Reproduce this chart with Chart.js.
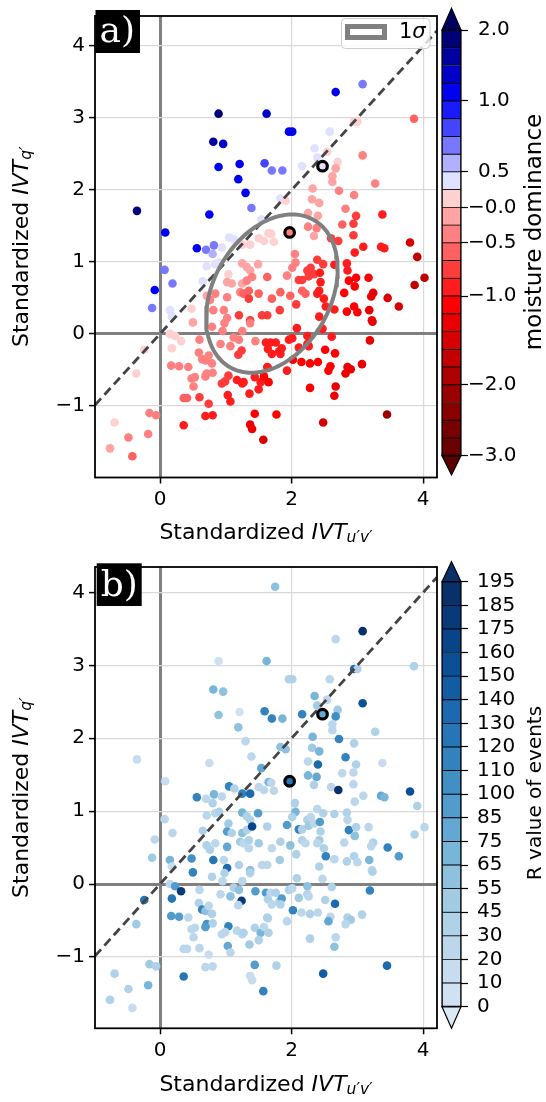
<!DOCTYPE html>
<html>
<head>
<meta charset="utf-8">
<script src="https://cdn.jsdelivr.net/npm/chart.js@4.4.0/dist/chart.umd.min.js"></script>
<style>
  body { margin: 0; background: #fff; }
  #wrap { position: relative; width: 546px; height: 1102px; }
  canvas { position: absolute; }
</style>
</head>
<body>
<div id="wrap">
  <canvas id="scA" width="546" height="551" style="left:0px;top:0px"></canvas>
  <canvas id="cbA" width="111" height="551" style="left:435px;top:0px"></canvas>
  <canvas id="scB" width="546" height="551" style="left:0px;top:551px"></canvas>
  <canvas id="cbB" width="111" height="551" style="left:435px;top:551px"></canvas>
</div>
<script>
/* ---------- data ---------- */
// standardized IVT_u'v' (x) and IVT_q' (y) of the events
const ptX = [
  0.89,1.62,0.81,0.96,0.89,1.21,1.59,3.08,2.67,1.96,
  2.01,2.58,2.35,2.39,2.95,3.00,3.86,3.08,2.16,2.70,
  2.67,2.54,1.70,1.86,1.19,1.30,1.39,1.54,-0.35,0.75,
  0.08,0.56,0.70,0.82,0.80,0.94,1.05,1.13,0.71,0.84,
  0.90,0.07,0.19,-0.08,-0.12,0.65,0.15,0.18,0.48,1.25,
  1.37,1.50,1.58,1.65,1.25,1.32,1.37,1.49,1.04,1.02,
  1.09,1.25,1.32,1.40,0.71,0.84,1.02,0.76,1.22,1.27,
  1.35,1.50,1.63,1.35,0.97,0.81,1.20,1.37,1.55,1.02,
  2.62,2.62,3.27,2.32,2.31,2.42,2.72,2.95,1.83,1.91,
  2.82,3.38,2.25,2.40,2.98,2.94,2.77,2.25,2.38,2.34,
  1.69,1.73,2.94,2.60,2.71,3.09,3.36,3.41,3.80,3.91,
  2.96,2.05,2.06,2.39,2.48,2.65,2.84,2.85,1.93,2.01,
  2.24,2.29,2.11,2.16,2.26,2.34,2.43,2.44,2.42,2.39,
  2.87,2.98,3.17,2.96,2.80,3.24,3.21,3.46,3.87,4.02,
  3.63,1.83,1.70,1.98,2.16,2.21,2.07,1.82,1.63,2.49,
  2.52,2.65,2.84,2.95,3.00,3.18,3.22,2.42,0.50,0.15,
  0.23,0.32,0.18,-0.24,-0.36,0.60,0.79,0.95,0.98,0.92,
  1.07,1.12,1.20,1.25,1.37,1.45,1.24,1.19,0.59,0.64,
  0.69,0.74,0.79,0.17,0.29,0.43,0.53,0.51,0.48,0.71,
  0.80,0.69,0.36,0.41,0.60,0.74,0.94,1.04,0.99,1.03,
  1.07,1.17,1.25,1.27,1.36,1.44,1.53,1.50,1.58,1.65,
  0.69,0.80,0.36,-0.16,-0.06,-0.69,-0.48,-0.18,-0.76,-0.42,
  1.44,1.37,1.40,1.57,1.61,1.64,1.63,3.23,2.08,2.47,
  2.61,2.24,1.96,2.01,3.19,2.24,2.26,2.11,2.51,2.66,
  1.68,1.76,1.81,1.85,1.70,1.83,2.02,2.15,2.28,2.40,
  1.64,1.93,2.59,2.56,2.85,2.90,2.82,3.07,2.28,2.67,
  2.65,1.77,2.48,3.45
];
const ptY = [
  3.06,3.06,2.67,2.64,2.32,2.36,2.37,3.47,3.36,2.81,
  2.81,2.81,2.58,2.45,2.95,2.95,2.99,2.48,2.33,2.39,
  2.30,2.53,2.27,2.27,2.15,1.96,1.75,1.59,1.71,1.66,
  1.41,1.19,1.17,1.23,1.11,1.20,1.34,1.31,0.94,0.97,
  0.99,0.89,0.70,0.61,0.36,0.73,0.33,0.24,0.35,1.24,
  1.24,1.33,1.29,1.40,0.98,0.93,0.88,0.97,0.83,0.72,
  0.70,0.70,0.74,0.79,0.53,0.56,0.51,0.47,0.58,0.56,
  0.60,0.56,0.79,0.49,0.33,0.33,0.26,0.19,0.26,0.22,
  2.19,2.11,2.09,2.02,1.87,1.82,1.99,1.93,1.88,1.85,
  1.74,1.66,1.68,1.64,1.64,1.53,1.52,1.49,1.47,1.36,
  1.39,1.28,1.37,1.33,1.29,1.21,1.21,1.19,1.27,1.07,
  1.13,1.11,0.99,1.03,0.97,0.96,0.98,0.88,0.81,0.92,
  0.88,0.92,0.75,0.75,0.80,0.83,0.85,0.72,0.60,0.56,
  0.74,0.78,0.78,0.66,0.57,0.57,0.52,0.50,0.68,0.78,
  0.38,0.58,0.49,0.53,0.60,0.56,0.41,0.33,0.26,0.49,
  0.38,0.34,0.31,0.38,0.30,0.33,0.19,0.24,0.16,0.00,
  -0.03,-0.10,-0.20,-0.22,-0.55,-0.08,0.10,0.04,0.15,-0.14,
  -0.17,-0.05,-0.08,0.04,0.15,-0.10,-0.23,-0.29,-0.26,-0.35,
  -0.37,-0.30,-0.41,-0.44,-0.45,-0.46,-0.60,-0.73,-0.62,-0.55,
  -0.54,-0.59,-0.89,-0.89,-0.88,-0.97,-0.69,-0.58,-0.66,-0.85,
  -0.94,-0.64,-0.69,-0.67,-0.83,-0.60,-0.67,-0.77,-0.59,-0.67,
  -1.14,-1.13,-1.27,-1.10,-1.13,-1.23,-1.44,-1.39,-1.59,-1.70,
  -1.11,-1.26,-1.32,-1.47,-0.12,-0.21,-0.46,0.17,0.08,0.07,
  -0.04,-0.03,-0.08,-0.06,-0.09,-0.14,-0.17,-0.19,-0.22,-0.27,
  -0.12,-0.12,-0.24,-0.20,-0.28,-0.28,-0.36,-0.39,-0.41,-0.39,
  -0.47,-0.51,-0.45,-0.51,-0.46,-0.49,-0.55,-0.42,-0.75,-0.73,
  -0.86,-1.12,-1.23,-1.12
];
// moisture dominance of each event (panel a colour)
const moistDom = [
  1.8,1.3,1.6,1.3,1.2,1.1,0.8,0.7,1.2,1.2,
  1.2,0.4,0.45,0.45,0.1,0.1,-0.55,-0.45,0.4,0.1,
  -0.1,0.1,0.7,0.7,1.2,1.1,0.7,0.4,1.9,1.2,
  1.2,1.0,0.7,0.7,0.55,0.4,0.4,0.4,0.45,0.45,
  0.4,0.7,0.7,1.0,0.7,0.45,0.4,0.4,0.1,0.1,
  0.1,0.1,0.1,0.1,-0.1,-0.2,-0.1,-0.2,0.1,-0.1,
  -0.2,-0.2,-0.3,-0.3,-0.2,-0.3,-0.3,-0.5,-0.5,-0.6,
  -0.6,-0.6,-0.6,-0.8,-0.4,-0.4,-0.8,-0.8,-0.8,-0.5,
  -0.1,-0.1,-0.5,-0.2,-0.2,-0.2,-0.3,-0.5,0.4,0.1,
  -0.4,-0.9,-0.2,-0.2,-0.7,-0.7,-0.6,-0.3,-0.3,-0.2,
  0.1,0.1,-0.8,-0.7,-0.7,-0.9,-1.0,-1.0,-1.5,-1.7,
  -1.0,-0.4,-0.4,-0.8,-0.8,-0.9,-1.0,-1.0,-0.5,-0.5,
  -0.7,-0.7,-0.7,-0.7,-0.7,-0.7,-0.9,-0.9,-0.9,-0.9,
  -1.1,-1.1,-1.1,-1.1,-1.2,-1.3,-1.3,-1.5,-1.8,-1.8,
  -1.6,-0.6,-0.6,-0.6,-0.6,-0.6,-0.7,-0.7,-0.7,-1.0,
  -1.0,-1.0,-1.1,-1.1,-1.1,-1.3,-1.3,-1.0,-0.1,0.1,
  0.1,0.1,0.1,0.1,0.1,-0.3,-0.3,-0.3,-0.3,-0.5,
  -0.5,-0.5,-0.5,-0.5,-0.5,-0.5,-0.8,-0.8,-0.5,-0.5,
  -0.5,-0.5,-0.5,-0.3,-0.3,-0.3,-0.5,-0.5,-0.5,-0.5,
  -0.5,-0.5,-0.6,-0.6,-0.7,-0.8,-0.8,-0.8,-0.8,-1.0,
  -1.0,-0.9,-0.9,-0.9,-1.0,-1.0,-1.0,-1.0,-1.1,-1.1,
  -0.9,-0.9,-0.9,-0.4,-0.4,0.1,-0.4,-0.5,-0.2,-0.6,
  -1.1,-1.3,-1.3,-1.6,-1.0,-1.0,-1.0,-1.3,-1.0,-1.0,
  -1.0,-1.0,-1.0,-1.0,-1.3,-1.0,-1.0,-1.0,-1.1,-1.1,
  -1.0,-1.0,-1.0,-1.0,-1.0,-1.0,-1.1,-1.1,-1.1,-1.1,
  -1.0,-1.0,-1.2,-1.2,-1.3,-1.3,-1.3,-1.4,-1.2,-1.3,
  -1.3,-1.2,-1.6,-2.2
];
// R value of each event (panel b colour)
const rValue = [
  8,65,65,60,55,8,110,190,20,30,
  35,25,70,45,130,40,30,150,110,50,
  100,20,110,65,60,25,20,80,10,15,
  10,110,20,70,40,20,110,30,25,20,
  30,20,25,20,45,30,70,15,100,110,
  130,20,25,70,70,40,30,90,45,95,
  30,60,30,170,40,25,80,30,45,20,
  30,50,40,20,25,120,30,60,20,130,
  20,20,30,65,50,65,110,30,60,60,
  110,15,20,130,30,20,20,70,75,30,
  20,20,20,25,185,20,75,70,150,40,
  25,30,65,20,40,30,40,20,90,30,
  40,25,110,30,45,20,85,30,45,20,
  110,30,20,60,25,30,20,110,40,20,
  85,30,20,60,30,20,30,45,20,30,
  110,20,30,40,20,65,25,30,110,20,
  90,175,120,120,45,25,40,20,30,25,
  60,30,55,25,30,90,175,20,30,110,
  60,25,30,90,90,20,20,25,20,100,
  30,85,20,20,25,15,20,110,20,80,
  20,25,20,30,50,40,70,40,25,30,
  20,20,120,45,30,40,30,70,30,10,
  85,10,10,110,90,30,40,30,40,20,
  30,60,30,25,110,30,20,45,30,130,
  20,30,20,85,25,30,110,20,40,25,
  30,20,20,75,30,45,20,30,30,20,
  60,30,140,130
];
// the two highlighted events (black rings)
const ringX = [2.47, 1.97];
const ringY = [2.33, 1.41];
const ringMoist = [0.3, -0.3];
const ringR = [75, 120];
// event only shown in panel b
const extraBX = [1.75];
const extraBY = [4.08];
const extraBR = [55];

// 1-sigma ellipse (centre and covariance)
const ellCenter = [1.70, 0.56];
const ellCov = [[1.0, 0.341], [0.341, 1.21]];

// axes
const xLim = [-0.988, 4.21];
const yLimA = [-1.995, 4.417];
const yLimB = [-1.98, 4.35];
const xTicks = [0, 2, 4];
const yTicks = [-1, 0, 1, 2, 3, 4];

// colorbar a: levels (bottom to top), colours per bin, ticks
const moistLevels = [-3.0,-2.75,-2.5,-2.25,-2.0,-1.8,-1.6,-1.4,-1.2,-1.0,-0.8333,-0.6667,
  -0.5,-0.25,0,0.25,0.5,0.625,0.75,0.875,1.0,1.25,1.5,1.75,2.0];
const moistColors = ['#6a0000','#780000','#880000','#9a0000','#ae0000','#c20000','#d60000','#ea0000',
  '#ff0000','#ff1c1c','#ff3c3c','#ff6060','#ff8080','#ffa4a4','#ffd0d0','#e0e0ff',
  '#b0b0ff','#7878ff','#4444ff','#1a1aff','#0000f0','#0000c8','#0000a0','#00007a'];
const moistUnder = '#5a0000', moistOver = '#000060';
const moistTicks = [-3.0, -2.0, -1.0, -0.5, 0, 0.5, 1.0, 2.0];
const moistTickText = ['\u22123.0','\u22122.0','\u22121.0','\u22120.5','\u22120.0','\u20020.5','\u20021.0','\u20022.0'];

// colorbar b
const rLevels = [0,10,20,30,45,55,65,75,85,100,110,120,130,140,150,160,175,185,195];
const rColors = ['#d0e1f2','#c8dcf0','#bcd7eb','#b0d2e8','#a0cbe2','#8dc1dd','#77b5d9','#63a8d3','#519ccc',
  '#4090c5','#3282be','#2575b7','#1b69af','#125ca4','#0b5097','#084488','#083979','#08306b'];
const rUnder = '#dbe9f6', rOver = '#08306b';
const rTickText = rLevels.map(String);

/* ---------- helpers ---------- */
Chart.defaults.font.family = '"DejaVu Sans"';

function binColor(v, levels, colors, under, over) {
  if (v < levels[0]) return under;
  if (v >= levels[levels.length - 1]) return over;
  let i = 0;
  while (v >= levels[i + 1]) i++;
  return colors[i];
}

const pts = ptX.map((x, i) => ({ x: x, y: ptY[i] }));
const ringPts = ringX.map((x, i) => ({ x: x, y: ringY[i] }));
const extraPts = extraBX.map((x, i) => ({ x: x, y: extraBY[i] }));
const diagPts = [{ x: xLim[0], y: xLim[0] }, { x: xLim[1], y: xLim[1] }];

const L11 = Math.sqrt(ellCov[0][0]);
const L21 = ellCov[0][1] / L11;
const L22 = Math.sqrt(ellCov[1][1] - L21 * L21);
const ellPts = [];
for (let k = 0; k <= 120; k++) {
  const t = 2 * Math.PI * k / 120;
  ellPts.push({ x: ellCenter[0] + L11 * Math.cos(t), y: ellCenter[1] + L21 * Math.cos(t) + L22 * Math.sin(t) });
}

const mColor = v => binColor(v, moistLevels, moistColors, moistUnder, moistOver);
const rColor = v => binColor(v, rLevels, rColors, rUnder, rOver);
const minus = v => v < 0 ? '\u2212' + Math.abs(v) : String(v);

function mathLabel(ctx, cx, cy, rot, sub) {
  const parts = [
    { t: 'Standardized ', f: '22px "DejaVu Sans"', dy: 0 },
    { t: 'IVT', f: 'italic 22px "DejaVu Sans"', dy: 0 },
    { t: sub, f: 'italic 15.5px "DejaVu Sans"', dy: 5 }
  ];
  ctx.save();
  ctx.translate(cx, cy);
  ctx.rotate(rot);
  let w = 0;
  parts.forEach(p => { ctx.font = p.f; p.w = ctx.measureText(p.t).width; w += p.w; });
  let x = -w / 2;
  ctx.textBaseline = 'middle';
  ctx.textAlign = 'left';
  ctx.fillStyle = '#000';
  parts.forEach(p => { ctx.font = p.f; ctx.fillText(p.t, x, p.dy); x += p.w; });
  ctx.restore();
}

// frame, panel tag, axis titles, legend
const decor = {
  id: 'decor',
  afterDraw(chart, args, o) {
    const ctx = chart.ctx, a = chart.chartArea;
    ctx.save();
    ctx.strokeStyle = '#000';
    ctx.lineWidth = 1.8;
    ctx.strokeRect(a.left, a.top, a.right - a.left, a.bottom - a.top);

    if (o.legend) {
      ctx.fillStyle = 'rgba(255,255,255,0.8)';
      ctx.strokeStyle = '#cccccc';
      ctx.lineWidth = 1;
      ctx.beginPath();
      ctx.roundRect(341.5, 18.5, 88.5, 30, 4);
      ctx.fill();
      ctx.stroke();
      ctx.strokeStyle = '#808080';
      ctx.lineWidth = 5;
      ctx.strokeRect(347.5, 26.5, 37, 11);
      ctx.fillStyle = '#000';
      ctx.textBaseline = 'middle';
      ctx.font = '21px "DejaVu Sans"';
      ctx.fillText('1', 399, 33);
      const w1 = ctx.measureText('1').width;
      ctx.font = 'italic 21px "DejaVu Sans"';
      ctx.fillText('\u03c3', 399 + w1, 33);
    }

    ctx.fillStyle = '#000';
    ctx.fillRect(o.tagBox[0], o.tagBox[1], o.tagBox[2], o.tagBox[3]);
    ctx.fillStyle = '#fff';
    ctx.font = '36px "DejaVu Serif"';
    ctx.textBaseline = 'alphabetic';
    ctx.textAlign = 'left';
    ctx.fillText(o.tag, o.tagBox[0] + 4, o.tagY);
    ctx.restore();

    mathLabel(ctx, (a.left + a.right) / 2, o.xTitleY, 0, 'u\u2032v\u2032');
    mathLabel(ctx, o.yTitleX, (a.top + a.bottom) / 2, -Math.PI / 2, 'q\u2032');
  }
};

function scatterChart(id, cfg) {
  const grid = {
    color: c => (c.tick && c.tick.value === 0) ? '#808080' : '#d9d9d9',
    lineWidth: c => (c.tick && c.tick.value === 0) ? 3 : 1.2,
    tickColor: '#000', tickWidth: 1.5, tickLength: 6
  };
  const ticks = { font: { size: 20 }, color: '#000', padding: 4, autoSkip: false, maxRotation: 0, callback: v => minus(v) };
  return new Chart(document.getElementById(id), {
    type: 'scatter',
    data: { datasets: cfg.datasets },
    options: {
      responsive: false, animation: false, events: [], devicePixelRatio: 1,
      layout: { padding: { left: 0, top: cfg.padTop, right: 109, bottom: 0 } },
      plugins: { legend: { display: false }, tooltip: { enabled: false }, decor: cfg.decor },
      scales: {
        x: {
          type: 'linear', min: xLim[0], max: xLim[1],
          afterBuildTicks: s => { s.ticks = xTicks.map(v => ({ value: v })); },
          afterFit: s => { s.height = cfg.xH; },
          grid: grid, border: { display: false }, ticks: ticks
        },
        y: {
          type: 'linear', min: cfg.yLim[0], max: cfg.yLim[1],
          afterBuildTicks: s => { s.ticks = yTicks.map(v => ({ value: v })); },
          afterFit: s => { s.width = 95; },
          grid: grid, border: { display: false }, ticks: ticks
        }
      }
    },
    plugins: [decor]
  });
}

// arrows, outline and title of a colorbar
const cbarDecor = {
  id: 'cbarDecor',
  afterDraw(chart, args, o) {
    const ctx = chart.ctx, a = chart.chartArea;
    const mid = (a.left + a.right) / 2;
    ctx.save();
    ctx.strokeStyle = '#000';
    ctx.lineWidth = 1.2;
    ctx.beginPath();
    ctx.moveTo(a.left, a.top); ctx.lineTo(mid, o.tipTop); ctx.lineTo(a.right, a.top); ctx.closePath();
    ctx.fillStyle = o.over; ctx.fill(); ctx.stroke();
    ctx.beginPath();
    ctx.moveTo(a.left, a.bottom); ctx.lineTo(mid, o.tipBottom); ctx.lineTo(a.right, a.bottom); ctx.closePath();
    ctx.fillStyle = o.under; ctx.fill(); ctx.stroke();
    ctx.strokeRect(a.left, a.top, a.right - a.left, a.bottom - a.top);
    ctx.translate(o.titleX, o.titleY);
    ctx.rotate(-Math.PI / 2);
    ctx.font = o.titleSize + 'px "DejaVu Sans"';
    ctx.textAlign = 'center';
    ctx.textBaseline = 'middle';
    ctx.fillStyle = '#000';
    ctx.fillText(o.title, 0, 0);
    ctx.restore();
  }
};

function cbarChart(id, levels, colors, cfg) {
  return new Chart(document.getElementById(id), {
    type: 'bar',
    data: {
      labels: [''],
      datasets: colors.map(c => ({
        data: [1], backgroundColor: c, borderColor: '#000', borderWidth: 0.8,
        borderSkipped: false, barPercentage: 1, categoryPercentage: 1
      }))
    },
    options: {
      responsive: false, animation: false, events: [], devicePixelRatio: 1,
      layout: { padding: { left: 7, top: cfg.top, right: 0, bottom: cfg.bottom } },
      plugins: { legend: { display: false }, tooltip: { enabled: false }, cbarDecor: cfg.decor },
      scales: {
        x: { display: false, stacked: true },
        y: {
          stacked: true, position: 'right', min: 0, max: colors.length,
          afterBuildTicks: s => { s.ticks = cfg.tickVals.map(v => ({ value: levels.indexOf(v) })); },
          afterFit: s => { s.width = 85; },
          grid: { drawOnChartArea: false, tickLength: 7, tickColor: '#000', tickWidth: 1.2 },
          border: { display: false },
          ticks: { font: { size: 20 }, color: '#000', padding: cfg.pad, autoSkip: false, callback: (v, i) => cfg.tickText[i] }
        }
      }
    },
    plugins: [cbarDecor]
  });
}

/* ---------- panel a ---------- */
scatterChart('scA', {
  padTop: 5, xH: 73.5, yLim: yLimA,
  decor: { legend: true, tag: 'a)', tagBox: [95.5, 10, 44.5, 43], tagY: 42, xTitleY: 533, yTitleX: 22 },
  datasets: [
    { data: ringPts, pointRadius: 4.8, pointBackgroundColor: ringMoist.map(mColor), pointBorderColor: '#000', pointBorderWidth: 3.2, order: 0 },
    { data: ellPts, showLine: true, borderColor: '#808080', borderWidth: 4, pointRadius: 0, fill: false, order: 1 },
    { data: diagPts, showLine: true, borderColor: '#444444', borderWidth: 2.8, borderDash: [9, 5], pointRadius: 0, order: 2 },
    { data: pts, pointRadius: 4.3, pointBackgroundColor: moistDom.map(mColor), pointBorderWidth: 0, order: 3 }
  ]
});
cbarChart('cbA', moistLevels, moistColors, {
  top: 30, bottom: 95.3, pad: 0, tickVals: moistTicks, tickText: moistTickText,
  decor: { over: moistOver, under: moistUnder, tipTop: 8.3, tipBottom: 475, title: 'moisture dominance', titleSize: 23, titleX: 100, titleY: 232 }
});

/* ---------- panel b ---------- */
scatterChart('scB', {
  padTop: 10.7, xH: 73.7, yLim: yLimB,
  decor: { legend: false, tag: 'b)', tagBox: [96.7, 12.3, 45, 42.7], tagY: 44.5, xTitleY: 534, yTitleX: 22 },
  datasets: [
    { data: ringPts, pointRadius: 4.8, pointBackgroundColor: ringR.map(rColor), pointBorderColor: '#000', pointBorderWidth: 3.2, order: 0 },
    { data: diagPts, showLine: true, borderColor: '#444444', borderWidth: 2.8, borderDash: [9, 5], pointRadius: 0, order: 2 },
    { data: pts, pointRadius: 4.3, pointBackgroundColor: rValue.map(rColor), pointBorderWidth: 0, order: 3 },
    { data: extraPts, pointRadius: 4.3, pointBackgroundColor: extraBR.map(rColor), pointBorderWidth: 0, order: 3 }
  ]
});
cbarChart('cbB', rLevels, rColors, {
  top: 30.7, bottom: 95.3, pad: 9, tickVals: rLevels, tickText: rTickText,
  decor: { over: rOver, under: rUnder, tipTop: 10.7, tipBottom: 477.3, title: 'R value of events', titleSize: 20, titleX: 101, titleY: 242 }
});
</script>
</body>
</html>
